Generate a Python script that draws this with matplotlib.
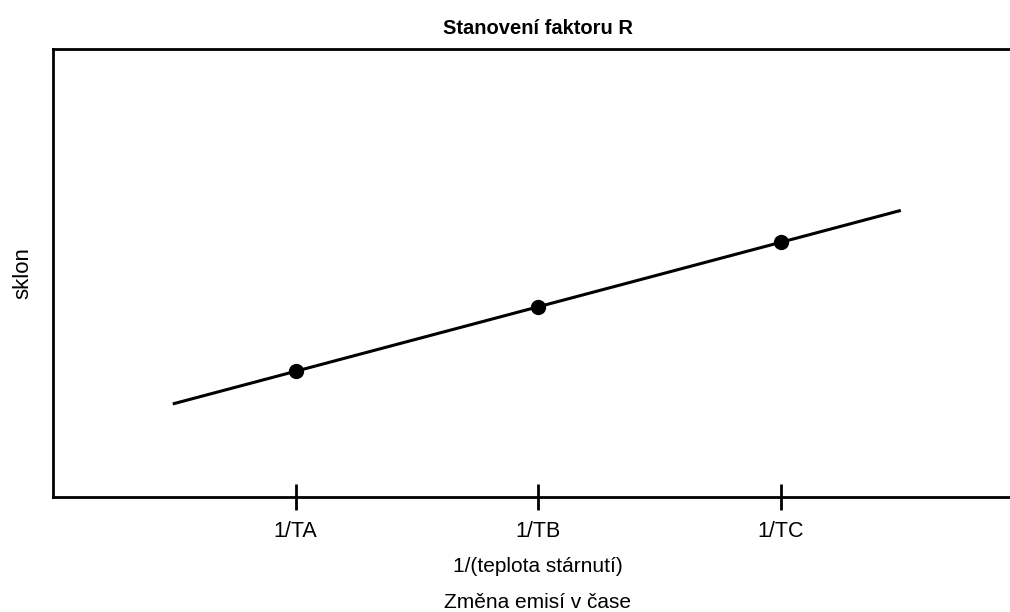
import numpy as np
import matplotlib.pyplot as plt

plt.rcParams['font.family'] = ['Liberation Sans', 'DejaVu Sans']

# stárnutí při třech teplotách
teploty = ['1/TA', '1/TB', '1/TC']
x_body = [1, 2, 3]
sklon = [1.0, 2.0, 3.0]

fig = plt.figure(figsize=(10.1, 6.12), dpi=100)
ax = fig.add_axes([53 / 1010, 1 - 497 / 612, 970 / 1010, 448 / 612])

# proložená přímka přes body, prodloužená o půl dílku na obě strany
k, q = np.polyfit(x_body, sklon, 1)
x_primka = np.array([x_body[0] - 0.5, x_body[-1] + 0.49])
ax.plot(x_primka, k * x_primka + q, color='black', lw=2.2, zorder=2)
ax.plot(x_body, sklon, 'o', color='black', ms=10, zorder=3)

ax.set_xlim(0, 4)
ax.set_ylim(-0.95, 6.0)
ax.set_xticks(x_body)
ax.set_xticklabels(teploty, fontsize=15.5)
ax.set_yticks([])
ax.tick_params(axis='x', direction='inout', length=19, width=2, pad=8)
for s in ax.spines.values():
    s.set_linewidth(2)

ax.set_title('Stanovení faktoru R', fontsize=14.5, fontweight='bold', pad=11)
ax.set_xlabel('1/(teplota stárnutí)', fontsize=15, va='baseline')
ax.xaxis.set_label_coords(0.5, -75 / 448)
ax.set_ylabel('sklon', fontsize=16, labelpad=14)

# druhý řádek popisu osy x
ax.text(0.5, -111 / 448, 'Změna emisí v čase', transform=ax.transAxes,
        fontsize=15, ha='center', va='baseline')

fig.savefig('out.png', dpi=100)
